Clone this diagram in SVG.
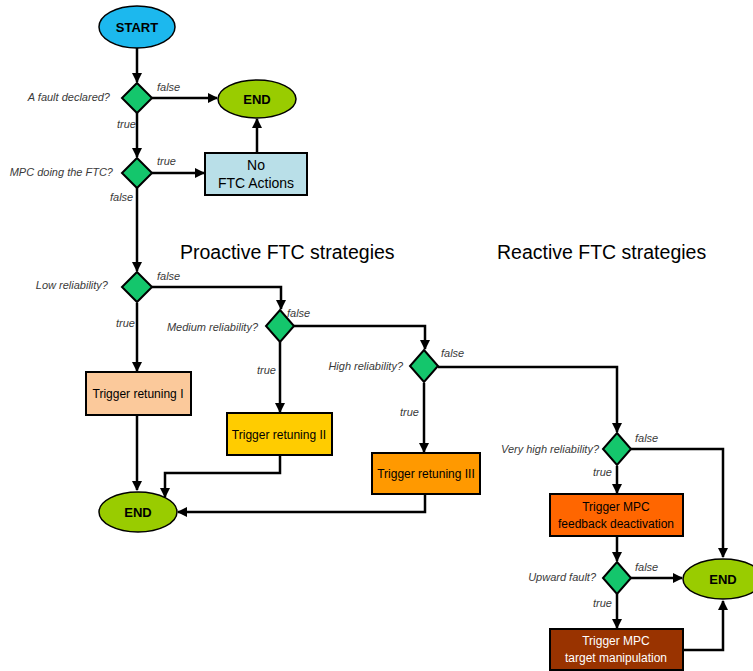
<svg xmlns="http://www.w3.org/2000/svg" width="753" height="671" viewBox="0 0 753 671">
<style>
.dia{fill:#14C66C;stroke:#000;stroke-width:2}
.box{stroke:#000;stroke-width:2}
.ell{stroke:#000;stroke-width:1.5}
.con{fill:none;stroke:#000;stroke-width:2.5}
.lbl{font-family:"Liberation Sans",Arial,sans-serif;font-style:italic;font-size:11px;fill:#3a3a3a}
.bt{font-family:"Liberation Sans",Arial,sans-serif;font-size:12px;fill:#000;text-anchor:middle}
.et{font-family:"Liberation Sans",Arial,sans-serif;font-size:13px;font-weight:bold;fill:#000;text-anchor:middle}
.title{font-family:"Liberation Sans",Arial,sans-serif;font-size:19.5px;fill:#000}
</style>
<defs>
<marker id="ah" viewBox="0 0 10 10" refX="9" refY="5" markerWidth="4" markerHeight="4" orient="auto" markerUnits="strokeWidth">
<path d="M0,0 L10,5 L0,10 z" fill="#000"/>
</marker>
</defs>
<rect width="753" height="671" fill="#fff"/>

<g id="connectors">
<path class="con" d="M137,47 V82" marker-end="url(#ah)"/>
<path class="con" d="M152,98 H217" marker-end="url(#ah)"/>
<path class="con" d="M137,113 V157" marker-end="url(#ah)"/>
<path class="con" d="M152,173 H204" marker-end="url(#ah)"/>
<path class="con" d="M257,153 V119" marker-end="url(#ah)"/>
<path class="con" d="M137,188 V271" marker-end="url(#ah)"/>
<path class="con" d="M152,287 H281 V309" marker-end="url(#ah)"/>
<path class="con" d="M137,303 V371" marker-end="url(#ah)"/>
<path class="con" d="M294,326 H425 V349" marker-end="url(#ah)"/>
<path class="con" d="M280,342 V412" marker-end="url(#ah)"/>
<path class="con" d="M137,415 V490" marker-end="url(#ah)"/>
<path class="con" d="M280,455 V473 H165 V497" marker-end="url(#ah)"/>
<path class="con" d="M424,383 V452" marker-end="url(#ah)"/>
<path class="con" d="M425,494 V512 H178" marker-end="url(#ah)"/>
<path class="con" d="M438,367 H617 V432" marker-end="url(#ah)"/>
<path class="con" d="M631,449 H723 V557" marker-end="url(#ah)"/>
<path class="con" d="M617,466 V493" marker-end="url(#ah)"/>
<path class="con" d="M617,536 V561" marker-end="url(#ah)"/>
<path class="con" d="M631,578 H682" marker-end="url(#ah)"/>
<path class="con" d="M617,594 V628" marker-end="url(#ah)"/>
<path class="con" d="M683,650 H723 V601" marker-end="url(#ah)"/>
</g>

<g id="titles">
<text class="title" x="180" y="259">Proactive FTC strategies</text>
<text class="title" x="497" y="259">Reactive FTC strategies</text>
</g>

<g id="start">
<ellipse class="ell" cx="137" cy="27" rx="38" ry="21" fill="#1CB8EE"/>
<text class="et" x="137" y="32">START</text>
</g>

<g id="d1">
<polygon class="dia" points="137,83 152,98 137,113 122,98"/>
<text class="lbl" x="110" y="101" text-anchor="end">A fault declared?</text>
<text class="lbl" x="157" y="91">false</text>
<text class="lbl" x="117" y="128">true</text>
</g>

<g id="end1">
<ellipse class="ell" cx="257" cy="99" rx="39" ry="19" fill="#99CC00"/>
<text class="et" x="257" y="104">END</text>
</g>

<g id="d2">
<polygon class="dia" points="137,158 152,173 137,188 122,173"/>
<text class="lbl" x="113" y="176" text-anchor="end">MPC doing the FTC?</text>
<text class="lbl" x="157" y="165">true</text>
<text class="lbl" x="110" y="201">false</text>
</g>

<g id="noftc">
<rect class="box" x="205" y="153" width="102" height="42" fill="#B9DFE8"/>
<text class="bt" x="256" y="170" style="font-size:14px">No</text>
<text class="bt" x="256" y="188" style="font-size:14px">FTC Actions</text>
</g>

<g id="d3">
<polygon class="dia" points="137,272 152,287 137,302 122,287"/>
<text class="lbl" x="108" y="289" text-anchor="end">Low reliability?</text>
<text class="lbl" x="157" y="280">false</text>
<text class="lbl" x="116" y="327">true</text>
</g>

<g id="d4">
<polygon class="dia" points="280,310 294,326 280,342 266,326"/>
<text class="lbl" x="258" y="331" text-anchor="end">Medium reliability?</text>
<text class="lbl" x="287" y="317">false</text>
<text class="lbl" x="257" y="374">true</text>
</g>

<g id="d5">
<polygon class="dia" points="424,350 438,366 424,382 410,366"/>
<text class="lbl" x="403" y="370" text-anchor="end">High reliability?</text>
<text class="lbl" x="441" y="357">false</text>
<text class="lbl" x="400" y="416">true</text>
</g>

<g id="r1">
<rect class="box" x="86" y="372" width="105" height="43" fill="#FBC99B"/>
<text class="bt" x="138" y="398">Trigger retuning I</text>
</g>

<g id="r2">
<rect class="box" x="227" y="413" width="105" height="42" fill="#FFCC00"/>
<text class="bt" x="279" y="439">Trigger retuning II</text>
</g>

<g id="r3">
<rect class="box" x="372" y="453" width="108" height="41" fill="#FF9900"/>
<text class="bt" x="426" y="478">Trigger retuning III</text>
</g>

<g id="end2">
<ellipse class="ell" cx="138" cy="512" rx="39" ry="20" fill="#99CC00"/>
<text class="et" x="138" y="517">END</text>
</g>

<g id="d6">
<polygon class="dia" points="617,433 631,449 617,465 603,449"/>
<text class="lbl" x="599" y="453" text-anchor="end">Very high reliability?</text>
<text class="lbl" x="635" y="442">false</text>
<text class="lbl" x="593" y="476">true</text>
</g>

<g id="fbdeact">
<rect class="box" x="550" y="494" width="133" height="42" fill="#FF6600"/>
<text class="bt" x="616" y="511">Trigger MPC</text>
<text class="bt" x="616" y="528">feedback deactivation</text>
</g>

<g id="d7">
<polygon class="dia" points="617,562 631,578 617,594 603,578"/>
<text class="lbl" x="596" y="581" text-anchor="end">Upward fault?</text>
<text class="lbl" x="635" y="571">false</text>
<text class="lbl" x="593" y="607">true</text>
</g>

<g id="targetman">
<rect class="box" x="550" y="629" width="133" height="41" fill="#993300"/>
<text class="bt" x="616" y="645" style="fill:#fff">Trigger MPC</text>
<text class="bt" x="616" y="662" style="fill:#fff">target manipulation</text>
</g>

<g id="end3">
<ellipse class="ell" cx="723" cy="579" rx="40" ry="20" fill="#99CC00"/>
<text class="et" x="723" y="584">END</text>
</g>
</svg>
